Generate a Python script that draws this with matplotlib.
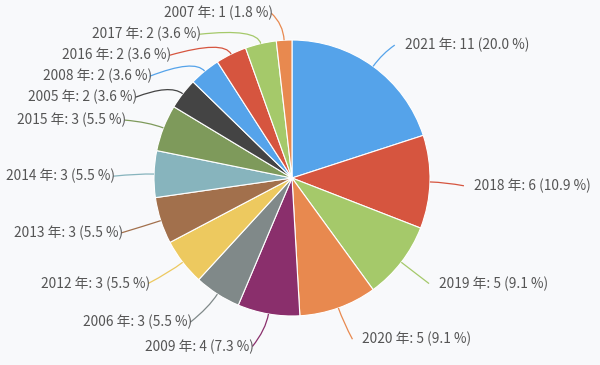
import numpy as np
import matplotlib
matplotlib.use("Agg")
import matplotlib.pyplot as plt
from matplotlib.path import Path
from matplotlib.patches import PathPatch

# data, in drawing order (clockwise from 12 o'clock)
years = ["2021", "2018", "2019", "2020", "2009", "2006", "2012", "2013",
         "2014", "2015", "2005", "2008", "2016", "2017", "2007"]
counts = [11, 6, 5, 5, 4, 3, 3, 3, 3, 3, 2, 2, 2, 2, 1]
colors = ["#55a3ea", "#d6553f", "#a5c96a", "#e8894f", "#8a2f6c", "#808989",
          "#edc95f", "#a2704c", "#87b4bd", "#7e9a5b", "#444444",
          "#55a3ea", "#d6553f", "#a5c96a", "#e8894f"]

W, H = 600, 365
cx, cy, r = 292, H - 178, 138
R = r + 30          # label circle
gap = 21            # min vertical spacing between labels
txt_color = "#555555"
font = ["Noto Sans CJK JP", "DejaVu Sans"]

fig = plt.figure(figsize=(6, 3.65), dpi=100)
fig.patch.set_facecolor("#f8f9fb")
ax = fig.add_axes([0, 0, 1, 1])

ax.pie(counts, colors=colors, center=(cx, cy), radius=r, startangle=90,
       counterclock=False, wedgeprops=dict(edgecolor="white", linewidth=0.8))

ax.set_xlim(0, W)
ax.set_ylim(0, H)
ax.set_aspect("equal")
ax.axis("off")

total = sum(counts)
bounds = np.cumsum([0] + counts) / total * 360
mids = np.radians((bounds[:-1] + bounds[1:]) / 2)   # clockwise from top

# natural label heights, then push apart per side (top-down)
nat_y = cy + R * np.cos(mids)
right = [i for i in range(len(counts)) if np.sin(mids[i]) >= 0]
left = [i for i in range(len(counts)) if np.sin(mids[i]) < 0]
lab_y = nat_y.copy()
for side in (right, left):
    order = sorted(side, key=lambda i: -nat_y[i])
    prev = None
    for i in order:
        y = nat_y[i]
        if prev is not None:
            y = min(y, prev - gap)
        lab_y[i] = y
        prev = y

for i, (yr, n, c) in enumerate(zip(years, counts, colors)):
    th = mids[i]
    s = 1 if np.sin(th) >= 0 else -1
    dy = lab_y[i] - cy
    lx = cx + s * np.sqrt(max(R ** 2 - dy ** 2, 0))
    ty = lab_y[i] - 3
    p0 = (cx + r * np.sin(th), cy + r * np.cos(th))
    p1 = (cx + (r + 16) * np.sin(th), cy + (r + 16) * np.cos(th))
    p2 = (lx + s * 4 - (0 if s > 0 else 7), ty)
    path = Path([p0, p1, p2], [Path.MOVETO, Path.CURVE3, Path.CURVE3])
    ax.add_patch(PathPatch(path, fill=False, edgecolor=c, linewidth=0.9))
    label = f"{yr} 年: {n} ({n / total * 100:.1f} %)"
    tx = lx + 14 if s > 0 else lx - 9
    ax.text(tx, ty, label, ha="left" if s > 0 else "right", va="center",
            fontsize=9.9, color=txt_color, family=font)

fig.savefig("out.png", dpi=100, facecolor=fig.get_facecolor())
